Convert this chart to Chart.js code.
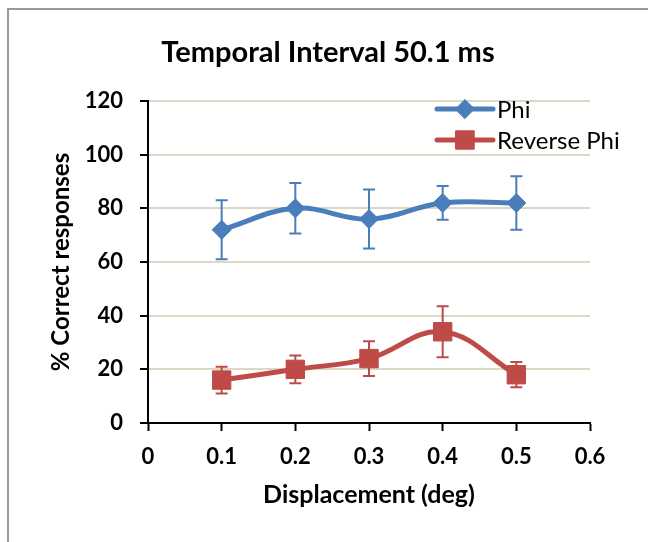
<!DOCTYPE html>
<html>
<head>
<meta charset="utf-8">
<script src="https://cdn.jsdelivr.net/npm/chart.js@4.4.1/dist/chart.umd.min.js"></script>
<style>
  html, body { margin: 0; padding: 0; background: #ffffff; }
  #wrap { position: relative; width: 648px; height: 542px; overflow: hidden; }
</style>
</head>
<body>
<div id="wrap"><canvas id="c" width="648" height="542"></canvas></div>
<script>
// ---- data ----
const displacement = [0.1, 0.2, 0.3, 0.4, 0.5];
const phiValues = [72, 80, 76, 82, 82];
const phiErrors = [11, 9.4, 11, 6.3, 10];
const reversePhiValues = [16, 20, 24, 34, 18];
const reversePhiErrors = [5, 5.2, 6.5, 9.5, 4.7];
const xTickLabels = ['0', '0.1', '0.2', '0.3', '0.4', '0.5', '0.6'];
const yTickLabels = ['0', '20', '40', '60', '80', '100', '120'];
const seriesNames = ['Phi', 'Reverse Phi'];
const chartTitle = 'Temporal Interval 50.1 ms';
const xTitle = 'Displacement (deg)';
const yTitle = '% Correct responses';

const BLUE = '#4a7ebb';
const RED = '#be4b48';
const FONT = 'Lato, "Open Sans", sans-serif';

const errorsByDataset = [phiErrors, reversePhiErrors];

const frame = {
  id: 'frame',
  beforeDraw(chart) {
    const ctx = chart.ctx;
    ctx.save();
    ctx.fillStyle = '#ffffff';
    ctx.fillRect(0, 0, chart.width, chart.height);
    ctx.strokeStyle = '#9a9a9a';
    ctx.lineWidth = 2;
    ctx.beginPath();
    ctx.moveTo(8, chart.height + 5);
    ctx.lineTo(8, 9);
    ctx.lineTo(chart.width + 5, 9);
    ctx.stroke();
    ctx.restore();
  }
};

const errorBars = {
  id: 'errorBars',
  afterDatasetsDraw(chart) {
    const ctx = chart.ctx;
    const yScale = chart.scales.y;
    ctx.save();
    chart.data.datasets.forEach((ds, di) => {
      const meta = chart.getDatasetMeta(di);
      const errs = errorsByDataset[di];
      ctx.strokeStyle = ds.borderColor;
      ctx.lineWidth = 2;
      meta.data.forEach((pt, i) => {
        const v = ds.data[i].y;
        const yt = yScale.getPixelForValue(v + errs[i]);
        const yb = yScale.getPixelForValue(v - errs[i]);
        const x = pt.x;
        ctx.beginPath();
        ctx.moveTo(x, yt); ctx.lineTo(x, yb);
        ctx.moveTo(x - 6, yt); ctx.lineTo(x + 6, yt);
        ctx.moveTo(x - 6, yb); ctx.lineTo(x + 6, yb);
        ctx.stroke();
      });
    });
    ctx.restore();
  }
};

const customLegend = {
  id: 'customLegend',
  afterDraw(chart) {
    const ctx = chart.ctx;
    const area = chart.chartArea;
    const x0 = area.right - 153;
    const x1 = area.right - 97;
    const xm = (x0 + x1) / 2;
    const ys = [area.top + 8, area.top + 39];
    ctx.save();
    chart.data.datasets.forEach((ds, di) => {
      const y = ys[di];
      ctx.strokeStyle = ds.borderColor;
      ctx.lineWidth = 5;
      ctx.lineCap = 'round';
      ctx.beginPath();
      ctx.moveTo(x0, y); ctx.lineTo(x1, y);
      ctx.stroke();
      ctx.fillStyle = ds.backgroundColor;
      ctx.strokeStyle = ds.backgroundColor;
      ctx.lineWidth = 1;
      Chart.helpers.drawPoint(ctx, {pointStyle: ds.pointStyle, rotation: 0, borderWidth: 1, radius: ds.pointRadius}, xm, y);
      ctx.fillStyle = '#000000';
      ctx.font = '24px ' + FONT;
      ctx.textBaseline = 'middle';
      ctx.textAlign = 'left';
      ctx.fillText(ds.label, x1 + 4, y + 1);
    });
    ctx.restore();
  }
};

new Chart(document.getElementById('c'), {
  type: 'line',
  data: {
    datasets: [
      {
        label: seriesNames[0],
        data: displacement.map((x, i) => ({x, y: phiValues[i]})),
        borderColor: BLUE,
        backgroundColor: BLUE,
        borderWidth: 5,
        tension: 0.4,
        pointStyle: 'rectRot',
        pointRadius: 9.5,
        pointBorderWidth: 1,
        pointBackgroundColor: BLUE,
        pointBorderColor: BLUE,
        fill: false
      },
      {
        label: seriesNames[1],
        data: displacement.map((x, i) => ({x, y: reversePhiValues[i]})),
        borderColor: RED,
        backgroundColor: RED,
        borderWidth: 5,
        tension: 0.4,
        pointStyle: 'rect',
        pointRadius: 13,
        pointBorderWidth: 1,
        pointBackgroundColor: RED,
        pointBorderColor: RED,
        fill: false
      }
    ]
  },
  options: {
    responsive: false,
    animation: false,
    events: [],
    layout: { padding: { left: 8, right: 0, top: 0, bottom: 0 } },
    plugins: {
      legend: { display: false },
      tooltip: { enabled: false },
      title: {
        display: true,
        text: chartTitle,
        color: '#000000',
        font: { family: FONT, size: 29, weight: 'bold', lineHeight: 1.2 },
        padding: { top: 35.6, bottom: 30.6 }
      }
    },
    scales: {
      x: {
        type: 'linear',
        min: 0,
        max: 0.6,
        afterFit(scale) { scale.height = 119; },
        afterBuildTicks(scale) {
          scale.ticks = xTickLabels.map(t => ({ value: parseFloat(t) }));
        },
        ticks: {
          color: '#000000',
          font: { family: FONT, size: 22, weight: 'bold' },
          padding: 13,
          maxRotation: 0,
          autoSkip: false,
          callback: (v, i) => xTickLabels[i]
        },
        grid: { drawOnChartArea: false, drawTicks: true, tickLength: 8, tickColor: '#000000', tickWidth: 2 },
        border: { color: '#000000', width: 2 },
        title: {
          display: true,
          text: xTitle,
          color: '#000000',
          font: { family: FONT, size: 25, weight: 'bold', lineHeight: 1.2 },
          padding: { top: 0, bottom: 32 }
        }
      },
      y: {
        min: 0,
        max: 120,
        afterFit(scale) { scale.width = 140; },
        afterBuildTicks(scale) {
          scale.ticks = yTickLabels.map(t => ({ value: parseFloat(t) }));
        },
        ticks: {
          color: '#000000',
          font: { family: FONT, size: 22, weight: 'bold' },
          padding: 17,
          callback: (v, i) => yTickLabels[i]
        },
        grid: { color: '#ddd8c6', lineWidth: 2, drawTicks: true, tickLength: 8, tickColor: '#000000', tickWidth: 2 },
        border: { color: '#000000', width: 2 },
        title: {
          display: true,
          text: yTitle,
          color: '#000000',
          font: { family: FONT, size: 24, weight: 'bold', lineHeight: 1.2 },
          padding: { top: 39, bottom: 0 }
        }
      },
      yRightSpace: {
        position: 'right',
        display: true,
        afterFit(scale) { scale.width = 58; },
        grid: { display: false, drawTicks: false },
        border: { display: false },
        ticks: { display: false }
      }
    }
  },
  plugins: [frame, errorBars, customLegend]
});
</script>
</body>
</html>
